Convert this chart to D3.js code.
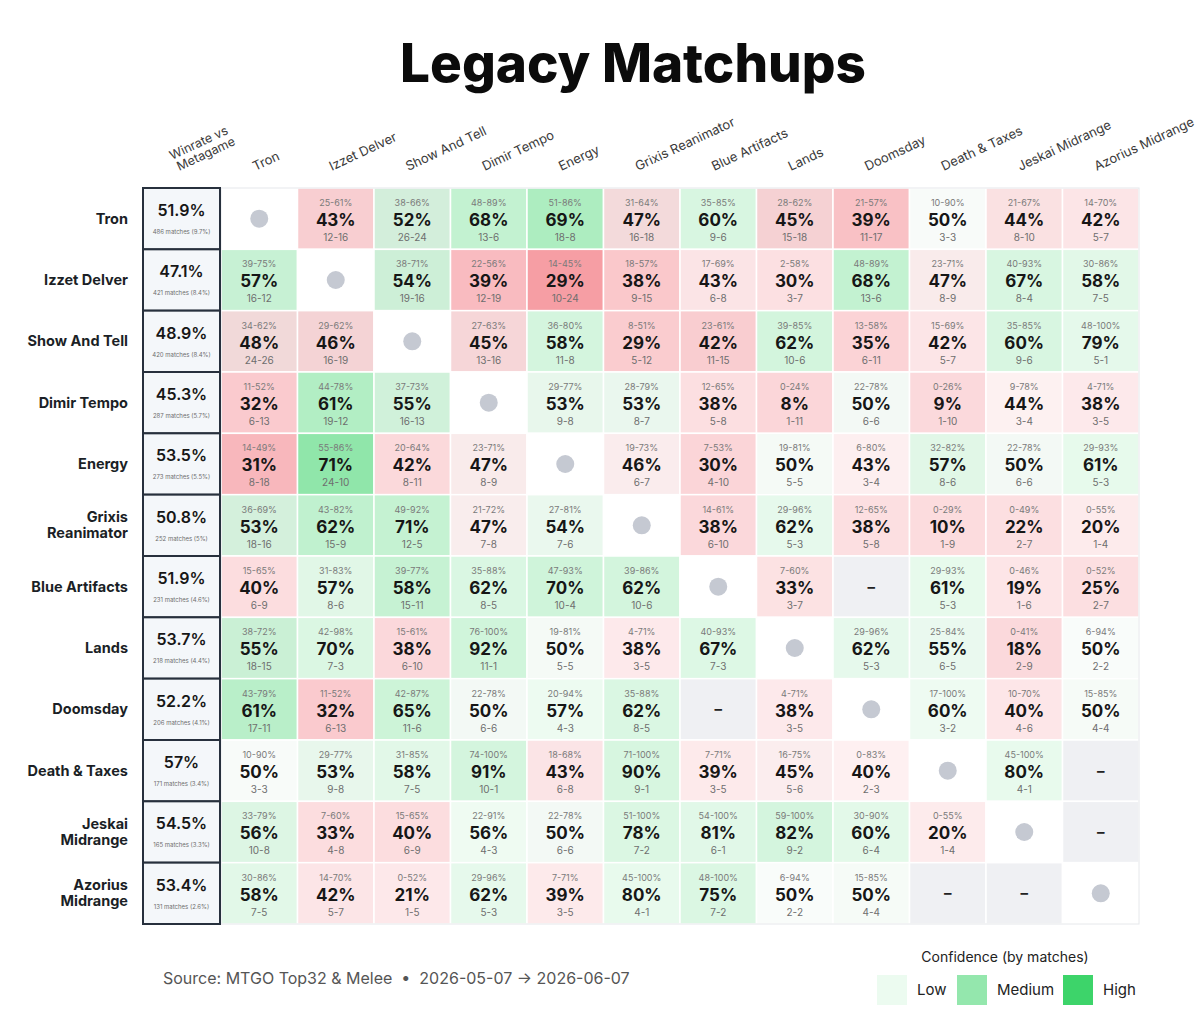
<!DOCTYPE html>
<html>
<head>
<meta charset="utf-8">
<script src="https://cdn.jsdelivr.net/npm/d3@7"></script>
<style>
  body { margin: 0; background: #fff; }
  svg { font-family: Inter, "Noto Sans", sans-serif; }
</style>
</head>
<body>
<svg id="chart" width="1200" height="1029"></svg>
<script>
// decks, same order on rows and columns
var decks = ["Tron", "Izzet Delver", "Show And Tell", "Dimir Tempo", "Energy", "Grixis Reanimator",
  "Blue Artifacts", "Lands", "Doomsday", "Death & Taxes", "Jeskai Midrange", "Azorius Midrange"];

var overallWinrate = ["51.9%", "47.1%", "48.9%", "45.3%", "53.5%", "50.8%", "51.9%", "53.7%", "52.2%", "57%", "54.5%", "53.4%"];
var matchCount = [486, 421, 420, 287, 273, 252, 231, 218, 206, 171, 165, 131];
var metaShare = ["9.7%", "8.4%", "8.4%", "5.7%", "5.5%", "5%", "4.6%", "4.4%", "4.1%", "3.4%", "3.3%", "2.6%"];

// "ci low-high|winrate|wins-losses", "x" = mirror, "" = no data
var matchups = [
  ["x", "25-61|43|12-16", "38-66|52|26-24", "48-89|68|13-6", "51-86|69|18-8", "31-64|47|16-18", "35-85|60|9-6", "28-62|45|15-18", "21-57|39|11-17", "10-90|50|3-3", "21-67|44|8-10", "14-70|42|5-7"],
  ["39-75|57|16-12", "x", "38-71|54|19-16", "22-56|39|12-19", "14-45|29|10-24", "18-57|38|9-15", "17-69|43|6-8", "2-58|30|3-7", "48-89|68|13-6", "23-71|47|8-9", "40-93|67|8-4", "30-86|58|7-5"],
  ["34-62|48|24-26", "29-62|46|16-19", "x", "27-63|45|13-16", "36-80|58|11-8", "8-51|29|5-12", "23-61|42|11-15", "39-85|62|10-6", "13-58|35|6-11", "15-69|42|5-7", "35-85|60|9-6", "48-100|79|5-1"],
  ["11-52|32|6-13", "44-78|61|19-12", "37-73|55|16-13", "x", "29-77|53|9-8", "28-79|53|8-7", "12-65|38|5-8", "0-24|8|1-11", "22-78|50|6-6", "0-26|9|1-10", "9-78|44|3-4", "4-71|38|3-5"],
  ["14-49|31|8-18", "55-86|71|24-10", "20-64|42|8-11", "23-71|47|8-9", "x", "19-73|46|6-7", "7-53|30|4-10", "19-81|50|5-5", "6-80|43|3-4", "32-82|57|8-6", "22-78|50|6-6", "29-93|61|5-3"],
  ["36-69|53|18-16", "43-82|62|15-9", "49-92|71|12-5", "21-72|47|7-8", "27-81|54|7-6", "x", "14-61|38|6-10", "29-96|62|5-3", "12-65|38|5-8", "0-29|10|1-9", "0-49|22|2-7", "0-55|20|1-4"],
  ["15-65|40|6-9", "31-83|57|8-6", "39-77|58|15-11", "35-88|62|8-5", "47-93|70|10-4", "39-86|62|10-6", "x", "7-60|33|3-7", "", "29-93|61|5-3", "0-46|19|1-6", "0-52|25|2-7"],
  ["38-72|55|18-15", "42-98|70|7-3", "15-61|38|6-10", "76-100|92|11-1", "19-81|50|5-5", "4-71|38|3-5", "40-93|67|7-3", "x", "29-96|62|5-3", "25-84|55|6-5", "0-41|18|2-9", "6-94|50|2-2"],
  ["43-79|61|17-11", "11-52|32|6-13", "42-87|65|11-6", "22-78|50|6-6", "20-94|57|4-3", "35-88|62|8-5", "", "4-71|38|3-5", "x", "17-100|60|3-2", "10-70|40|4-6", "15-85|50|4-4"],
  ["10-90|50|3-3", "29-77|53|9-8", "31-85|58|7-5", "74-100|91|10-1", "18-68|43|6-8", "71-100|90|9-1", "7-71|39|3-5", "16-75|45|5-6", "0-83|40|2-3", "x", "45-100|80|4-1", ""],
  ["33-79|56|10-8", "7-60|33|4-8", "15-65|40|6-9", "22-91|56|4-3", "22-78|50|6-6", "51-100|78|7-2", "54-100|81|6-1", "59-100|82|9-2", "30-90|60|6-4", "0-55|20|1-4", "x", ""],
  ["30-86|58|7-5", "14-70|42|5-7", "0-52|21|1-5", "29-96|62|5-3", "7-71|39|3-5", "45-100|80|4-1", "48-100|75|7-2", "6-94|50|2-2", "15-85|50|4-4", "", "", "x"]
];

var legendLabels = ["Low", "Medium", "High"];

var svg = d3.select("#chart");

var x = d3.scaleBand().domain(decks).range([221, 1139]);
var y = d3.scaleBand().domain(decks).range([188, 924]);
var leftX = 143, leftW = 77;

var green = "#3dd46a", red = "#ef5560", neutral = "#c4ccc6";

function cellColor(pct, n) {
  var c = Math.min(1, n / 40);
  var s = Math.min(1, Math.abs(pct - 50) / 25);
  var alpha = 0.03 + c * (0.3 + 0.4 * s);
  var tint = d3.interpolateRgb(neutral, pct >= 50 ? green : red)(Math.min(1, 0.3 + s * 2));
  return d3.interpolateRgb("#ffffff", tint)(alpha);
}

// title
svg.append("text")
  .attr("x", 633).attr("y", 82)
  .attr("text-anchor", "middle")
  .attr("font-size", 53).attr("font-weight", 800)
  .attr("fill", "#0b0b0b")
  .text("Legacy Matchups");

// column headers
var header = svg.append("g");
decks.forEach(function(d) {
  header.append("text")
    .attr("transform", "translate(" + (x(d) + x.bandwidth() / 2 - 4) + ",171) rotate(-25)")
    .attr("font-size", 13).attr("fill", "#3a3a3a")
    .text(d);
});
var wv = header.append("text")
  .attr("transform", "translate(172,160) rotate(-25)")
  .attr("font-size", 12.5).attr("fill", "#3a3a3a");
wv.append("tspan").attr("x", 0).attr("y", 0).text("Winrate vs");
wv.append("tspan").attr("x", 2).attr("y", 13).text("Metagame");

// cells
var cells = [];
matchups.forEach(function(row, i) {
  row.forEach(function(v, j) {
    var cell = { row: decks[i], col: decks[j], kind: v === "x" ? "self" : (v === "" ? "none" : "data") };
    if (cell.kind === "data") {
      var p = v.split("|");
      cell.ci = p[0] + "%";
      cell.pct = +p[1];
      cell.rec = p[2];
      var wl = p[2].split("-");
      cell.n = +wl[0] + +wl[1];
    }
    cells.push(cell);
  });
});

var g = svg.append("g");
var cg = g.selectAll("g.cell").data(cells).enter().append("g")
  .attr("class", "cell")
  .attr("transform", function(d) { return "translate(" + x(d.col) + "," + y(d.row) + ")"; });

cg.append("rect")
  .attr("width", x.bandwidth()).attr("height", y.bandwidth())
  .attr("fill", function(d) {
    if (d.kind === "self") return "#ffffff";
    if (d.kind === "none") return "#eff0f3";
    return cellColor(d.pct, d.n);
  })
  .attr("stroke", "#ffffff").attr("stroke-width", 1.5);

var bw = x.bandwidth(), bh = y.bandwidth();

cg.filter(function(d) { return d.kind === "self"; })
  .append("circle")
  .attr("cx", bw / 2).attr("cy", bh / 2).attr("r", 9)
  .attr("fill", "#c5c9d2");

cg.filter(function(d) { return d.kind === "none"; })
  .append("text")
  .attr("x", bw / 2).attr("y", bh / 2 + 5)
  .attr("text-anchor", "middle").attr("font-size", 15).attr("font-weight", 700)
  .attr("fill", "#222")
  .text("–");

var dc = cg.filter(function(d) { return d.kind === "data"; });
dc.append("text")
  .attr("x", bw / 2).attr("y", 18)
  .attr("text-anchor", "middle").attr("font-size", 9).attr("fill", "#7a7a7a")
  .text(function(d) { return d.ci; });
dc.append("text")
  .attr("x", bw / 2).attr("y", 38)
  .attr("text-anchor", "middle").attr("font-size", 17).attr("font-weight", 700)
  .attr("fill", "#161616")
  .text(function(d) { return d.pct + "%"; });
dc.append("text")
  .attr("x", bw / 2).attr("y", 53)
  .attr("text-anchor", "middle").attr("font-size", 10).attr("fill", "#6e6e6e")
  .text(function(d) { return d.rec; });

// faint outline round the grid
svg.append("rect")
  .attr("x", 221).attr("y", 188).attr("width", 918).attr("height", 736)
  .attr("fill", "none").attr("stroke", "#e6e8eb").attr("stroke-width", 1);

// left column: overall winrate
var lc = svg.append("g").selectAll("g").data(decks).enter().append("g")
  .attr("transform", function(d) { return "translate(" + leftX + "," + y(d) + ")"; });
lc.append("rect")
  .attr("width", leftW).attr("height", bh)
  .attr("fill", "#f4f7fa").attr("stroke", "#27303d").attr("stroke-width", 2);
lc.append("text")
  .attr("x", leftW / 2).attr("y", 28)
  .attr("text-anchor", "middle").attr("font-size", 16).attr("font-weight", 600)
  .attr("fill", "#161616")
  .text(function(d, i) { return overallWinrate[i]; });
lc.append("text")
  .attr("x", leftW / 2).attr("y", 46)
  .attr("text-anchor", "middle").attr("font-size", 6).attr("fill", "#6e6e6e")
  .text(function(d, i) { return matchCount[i] + " matches (" + metaShare[i] + ")"; });

// row labels
var rl = svg.append("g").selectAll("text").data(decks).enter().append("text")
  .attr("text-anchor", "end")
  .attr("font-size", 14.5).attr("font-weight", 700).attr("fill", "#1b1f26");
rl.each(function(d) {
  var t = d3.select(this);
  var words = d.split(" ");
  var lines = (d.length > 14 && words.length === 2) ? words : [d];
  var cy = y(d) + bh / 2;
  lines.forEach(function(w, k) {
    t.append("tspan").attr("x", 128)
      .attr("y", cy + 5 + (k - (lines.length - 1) / 2) * 16)
      .text(w);
  });
});

// footer
svg.append("text")
  .attr("x", 163).attr("y", 984)
  .attr("font-size", 16).attr("fill", "#555")
  .style("white-space", "pre")
  .text("Source: MTGO Top32 & Melee  \u2022  2026-05-07 \u2192 2026-06-07");

svg.append("text")
  .attr("x", 1005).attr("y", 962)
  .attr("text-anchor", "middle").attr("font-size", 14).attr("fill", "#222")
  .text("Confidence (by matches)");

var legX = [877, 957, 1063];
var legAlpha = [0.1, 0.55, 1];
legendLabels.forEach(function(l, i) {
  svg.append("rect")
    .attr("x", legX[i]).attr("y", 975).attr("width", 30).attr("height", 30)
    .attr("fill", d3.interpolateRgb("#ffffff", green)(legAlpha[i]));
  svg.append("text")
    .attr("x", legX[i] + 40).attr("y", 995)
    .attr("font-size", 15).attr("fill", "#222")
    .text(l);
});
</script>
</body>
</html>
